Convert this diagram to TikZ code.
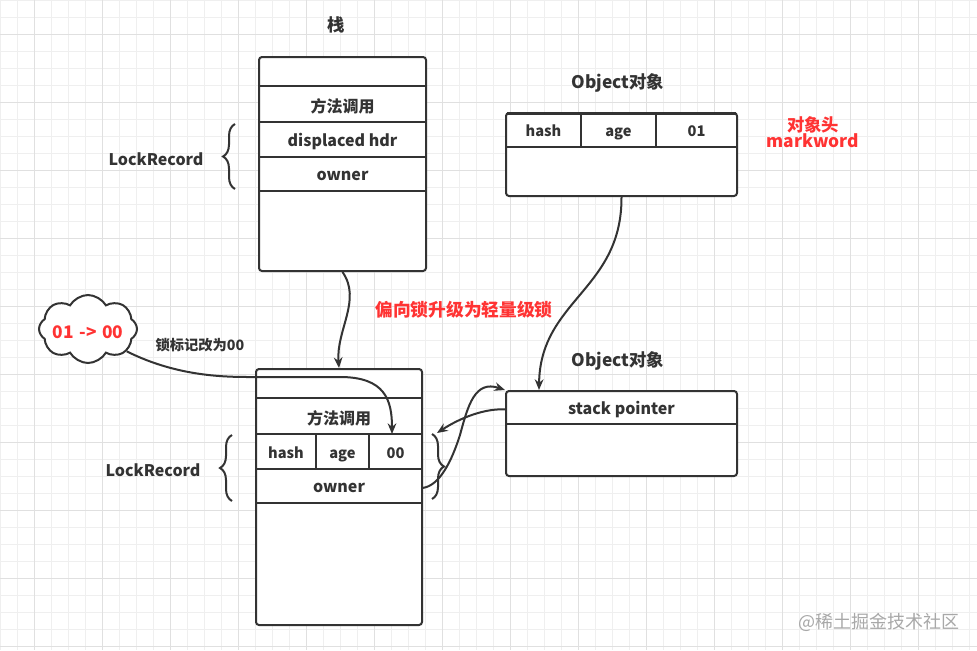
\documentclass[tikz,border=0pt]{standalone}
\usepackage{fontspec}
\setmainfont{Noto Sans CJK SC}
\usetikzlibrary{shapes.symbols,decorations.pathreplacing,calc,arrows.meta}
\definecolor{dark}{HTML}{333333}
\definecolor{redt}{HTML}{FF3333}
\definecolor{gminor}{HTML}{EFEFEF}
\definecolor{gmajor}{HTML}{E0E0E0}
\definecolor{wm}{HTML}{A8A8A8}
\begin{document}
\begin{tikzpicture}[x=0.75pt,y=-0.75pt,
  box/.style={draw=dark,line width=1.5pt,rounded corners=2.25pt,fill=white,inner sep=0pt},
  lbl/.style={font=\bfseries\fontsize{12}{14}\selectfont,text=dark,inner sep=0pt,yshift=-1.5pt},
  ttl/.style={font=\bfseries\fontsize{13}{15}\selectfont,text=dark,inner sep=0pt,yshift=-1.5pt},
  cell/.style={font=\bfseries\fontsize{11}{13}\selectfont,text=dark,inner sep=0pt,text height=8.5pt,text depth=2.5pt,yshift=-2pt},
  redlbl/.style={font=\bfseries\fontsize{13}{15}\selectfont,text=redt,inner sep=0pt,align=center,yshift=-1.5pt},
  divider/.style={draw=dark,line width=1.5pt},
  conn/.style={draw=dark,line width=1.5pt,-{Stealth[length=8pt,width=6.5pt]}},
  bracestyle/.style={draw=dark,line width=1.5pt,decoration={brace,amplitude=9pt},decorate}
]
% background and grid
\fill[white] (0,0) rectangle (977,650);
\useasboundingbox (0,0) rectangle (977,650);
\foreach \x in {0,17,...,977} {\draw[gminor,line width=0.75pt] (\x,0) -- (\x,650);}
\foreach \y in {0,17,...,650} {\draw[gminor,line width=0.75pt] (0,\y) -- (977,\y);}
\foreach \x in {34,102,...,977} {\draw[gmajor,line width=0.75pt] (\x,0) -- (\x,650);}
\foreach \y in {34,102,...,650} {\draw[gmajor,line width=0.75pt] (0,\y) -- (977,\y);}

% titles
\node[ttl] (t1) at (336,23) {栈};
\node[ttl] (t2) at (618,81) {Object对象};
\node[ttl] (t3) at (618,359) {Object对象};

% top stack
\node[box,minimum width=167*0.75pt,minimum height=214*0.75pt] (s1) at (342.5,164) {};
\draw[divider] (259,86) -- (426,86);
\draw[divider] (259,122) -- (426,122);
\draw[divider] (259,157) -- (426,157);
\draw[divider] (259,191) -- (426,191);
\node[lbl] (s1m) at (342.5,104) {方法调用};
\node[lbl] (s1d) at (342.5,140) {displaced hdr};
\node[lbl] (s1o) at (342.5,174) {owner};

% left brace top
\draw[bracestyle] (235,189) -- (235,124);
\node[lbl] (lr1) at (156,157) {LockRecord};

% top object
\node[box,minimum width=231*0.75pt,minimum height=83*0.75pt] (o1) at (621.5,154.5) {};
\draw[dark,line width=2.25pt] (507,113.5) -- (736,113.5);
\draw[divider] (506,147) -- (737,147);
\draw[divider] (581,113) -- (581,147);
\draw[divider] (656,113) -- (656,147);
\node[cell] (o1h) at (543.5,130) {hash};
\node[cell] (o1a) at (618.5,130) {age};
\node[cell] (o1f) at (696.5,130) {01};
\node[redlbl] (mw) at (813,130) {对象头\\[-3pt]markword};

% red label
\node[redlbl,font=\bfseries\fontsize{13.3}{15}\selectfont] (up) at (464,308) {偏向锁升级为轻量级锁};

% cloud
\node[cloud,cloud puffs=8,cloud puff arc=120,aspect=1.4,draw=dark,line width=1.5pt,fill=white,
      minimum width=98*0.75pt,minimum height=68*0.75pt,inner sep=0pt] (c1) at (88,329) {};
\node[font=\bfseries\fontsize{13}{15}\selectfont,text=redt,inner sep=0pt,yshift=-1.5pt] (c1t) at (88,330) {01\,\,->\,\,00};
\node[font=\bfseries\fontsize{10.7}{12}\selectfont,text=dark,inner sep=0pt,yshift=-1pt] (note) at (200,344) {锁标记改为00};

% lower stack
\node[box,minimum width=166*0.75pt,minimum height=256*0.75pt] (s2) at (339,497) {};
\draw[divider] (256,398) -- (422,398);
\draw[divider] (256,434) -- (422,434);
\draw[divider] (256,469) -- (422,469);
\draw[divider] (256,503) -- (422,503);
\draw[divider] (316,434) -- (316,469);
\draw[divider] (369,434) -- (369,469);
\node[lbl] (s2m) at (339,416) {方法调用};
\node[cell] (s2h) at (286,452) {hash};
\node[cell] (s2a) at (342.5,452) {age};
\node[cell] (s2c) at (395.5,452) {00};
\node[lbl,minimum width=166*0.75pt,minimum height=34*0.75pt] (s2o) at (339,486) {owner};

% lower left brace
\draw[bracestyle] (232,501) -- (232,435);
\node[lbl] (lr2) at (153,468) {LockRecord};
% lower right brace
\draw[bracestyle] (432,434) -- (432,499);
\coordinate (br) at (437,433);

% lower object
\node[box,minimum width=231*0.75pt,minimum height=85*0.75pt] (o2) at (621.5,433.5) {};
\draw[divider] (506,424) -- (737,424);
\node[lbl,minimum width=231*0.75pt,minimum height=33*0.75pt] (o2r) at (621.5,407.5) {stack pointer};
\coordinate (c00) at (392,434);

% connectors
\draw[conn] (s1.south) .. controls (362,300) and (336,330) .. (s2.north);
\draw[conn] (o1.south) .. controls (622,290) and (540,300) .. ($(o2.north west)+(34,0)$);
\draw[conn] (c1.-30) .. controls (180,378) and (230,377) .. (257,377) -- (340,377) .. controls (385,377) and (392,400) .. (c00);
\draw[conn] (o2r.west) .. controls (485,408) and (460,418) .. (br);
\draw[conn] (s2o.east) .. controls (440,486) and (452,460) .. (460,435) .. controls (468,405) and (475,380) .. (o2.north west);

% watermark
\node[font=\fontsize{13.5}{15}\selectfont,text=wm,inner sep=0pt,yshift=-1pt] (wmk) at (879,621) {@稀土掘金技术社区};
\end{tikzpicture}
\end{document}
